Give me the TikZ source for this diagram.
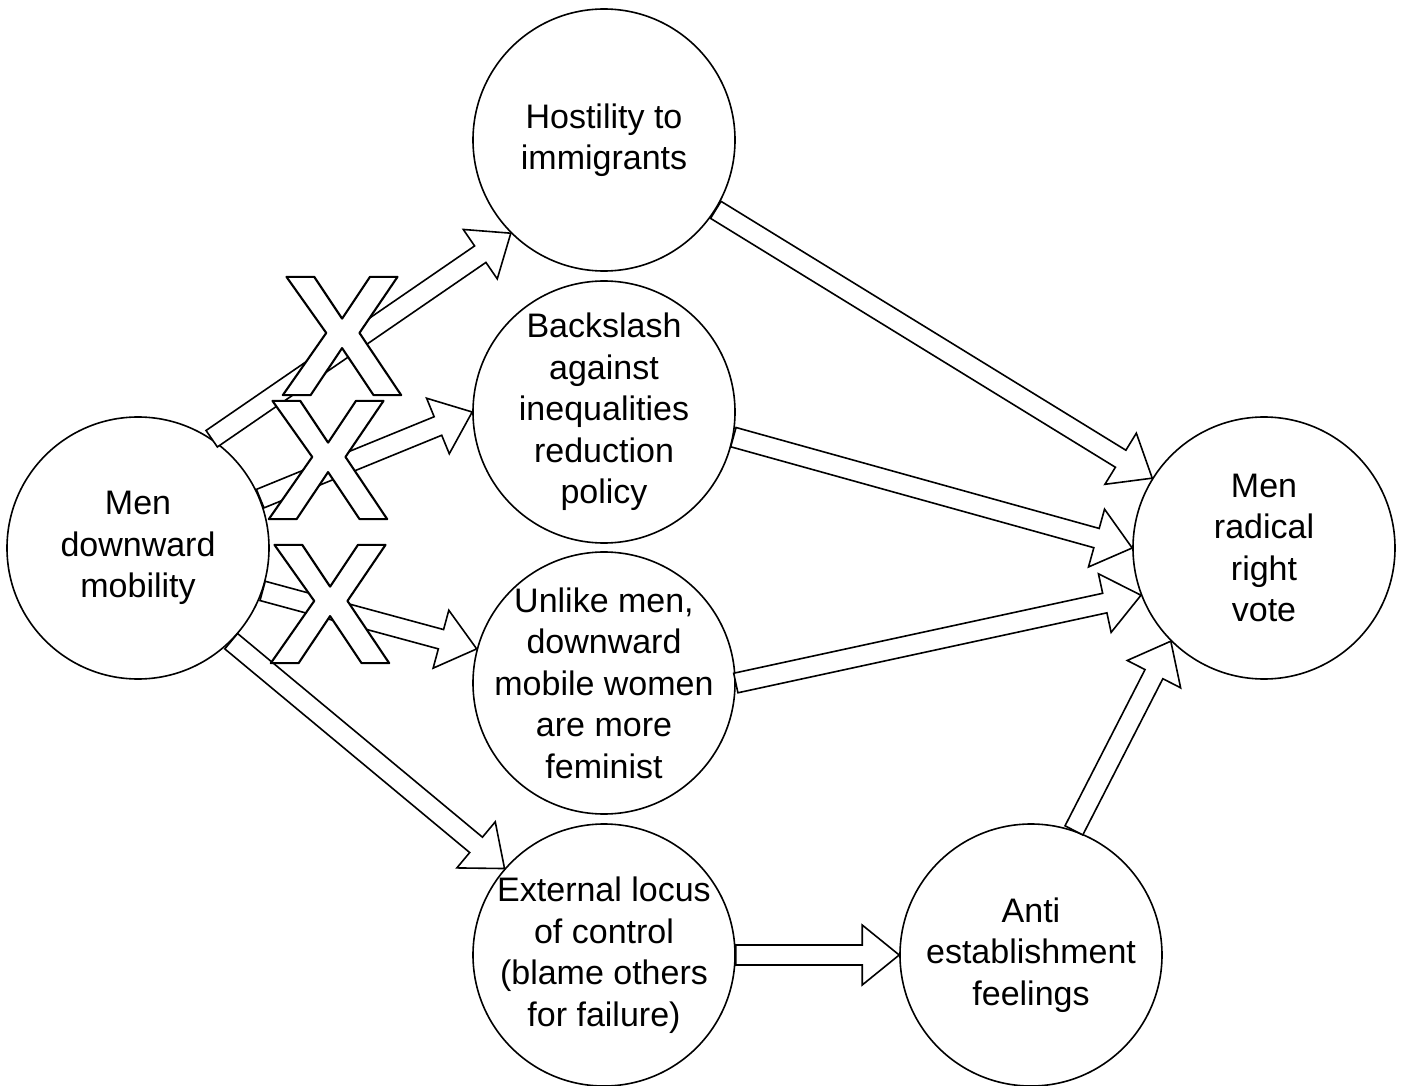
\documentclass[tikz,border=0pt]{standalone}
\usepackage{fontspec}
\setmainfont{Liberation Sans}
\usetikzlibrary{
  calc
}

\tikzset{
  factor/.style={circle,draw,line width=1.6pt,minimum size=262pt,inner sep=-25pt,
    align=center,font=\fontsize{34}{41.5}\selectfont},
  flexarrow/.style={draw,fill=white,line width=1.6pt,line join=miter},
  cross/.style={inner sep=-4pt,font=\fontsize{172}{172}\selectfont\bfseries},
}
\newcommand{\flexto}[2]{%
  \draw[flexarrow] let \p1=(#1), \p2=(#2),
    \n1={atan2(\y2-\y1,\x2-\x1)}, \n2={veclen(\x2-\x1,\y2-\y1)-37}
  in (#1) ++({\n1+90}:10) -- ++(\n1:\n2) -- ++({\n1+90}:20) -- (#2)
    -- ($(#1)+(\n1:\n2)+({\n1-90}:30)$) -- ++({\n1+90}:20)
    -- ($(#1)+({\n1-90}:10)$) -- cycle;
}
\newcommand{\crossmark}{\scalebox{1.06}[1]{%
  \special{pdf:literal direct 2 Tr 2 w 1 j 1 g 0 G}X%
  \special{pdf:literal direct 0 Tr 0 j 0 g 0 G}}}

\begin{document}
\begin{tikzpicture}[x=1pt,y=1pt]
\useasboundingbox (0,0) rectangle (1409,-1086);
\node[factor] (men) at (138,-548) {Men\\downward\\mobility};
\node[factor] (host) at (604,-140) {Hostility to\\immigrants};
\node[factor] (back) at (604,-412) {Backslash\\against\\inequalities\\reduction\\policy};
\node[factor] (unlike) at (604,-683) {Unlike men,\\downward\\mobile women\\are more\\feminist};
\node[factor] (ext) at (604,-955) {External locus\\of control\\(blame others\\for failure)};
\node[factor] (anti) at (1031,-955) {Anti\\establishment\\feelings};
\node[factor] (vote) at (1264,-548) {Men\\radical\\right\\vote};
\flexto{men.56.6}{host.225}
\flexto{men.22.5}{back.180}
\flexto{men.-19.8}{unlike.165.5}
\flexto{men.-45}{ext.139.6}
\flexto{host.-32.7}{vote.148.4}
\flexto{back.-11}{vote.180}
\flexto{unlike.0}{vote.201.2}
\flexto{ext.0}{anti.180}
\flexto{anti.71.8}{vote.225}
\node[cross] (x1) at (342,-336) {\crossmark};
\node[cross] (x2) at (328,-460) {\crossmark};
\node[cross] (x3) at (330,-604) {\crossmark};
\end{tikzpicture}
\end{document}
